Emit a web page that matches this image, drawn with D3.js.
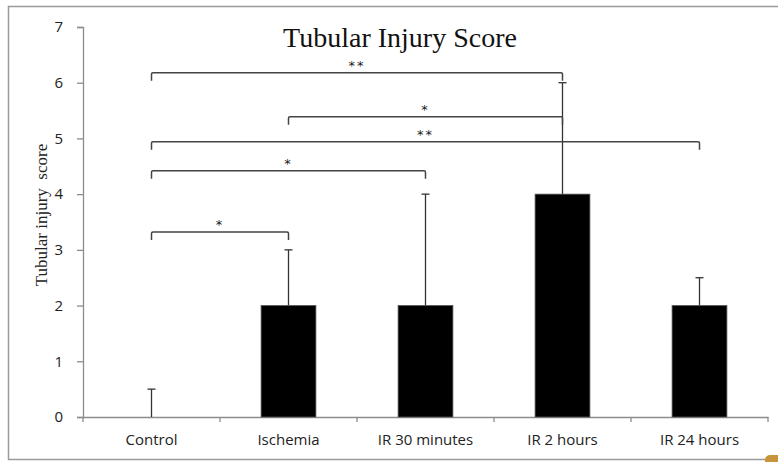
<!DOCTYPE html>
<html>
<head>
<meta charset="utf-8">
<script src="https://cdn.jsdelivr.net/npm/d3@7"></script>
<style>
  body { margin: 0; background: #fff; }
  svg { display: block; }
</style>
</head>
<body>
<svg id="chart" width="778" height="462"></svg>
<script>
// Tubular injury score — bar chart with error bars and significance brackets

const categories = ['Control', 'Ischemia', 'IR 30 minutes', 'IR 2 hours', 'IR 24 hours'];
const scores = [0, 2, 2, 4, 2];
const errUpper = [0.5, 3, 4, 6, 2.5];
const yTicks = [0, 1, 2, 3, 4, 5, 6, 7];

// brackets: from, to, level (score units), label
const bracketFrom = ['Control', 'Control', 'Control', 'Ischemia', 'Control'];
const bracketTo = ['Ischemia', 'IR 30 minutes', 'IR 24 hours', 'IR 2 hours', 'IR 2 hours'];
const bracketLevel = [3.32, 4.42, 4.94, 5.39, 6.18];
const bracketLabel = ['*', '*', '**', '*', '**'];

const svg = d3.select('#chart');
const m = { left: 83, right: 10, top: 27, bottom: 45 };

// frame round the chart
svg.append('path')
  .attr('d', `M778,6.5H8.5V459.5H766`)
  .attr('fill', 'none').attr('stroke', '#9a9a9a').attr('stroke-width', 1.5);
svg.append('rect')
  .attr('x', 765).attr('y', 455).attr('width', 20).attr('height', 14).attr('rx', 5)
  .attr('fill', '#c8933a');

const x = d3.scaleBand().domain(categories).range([m.left, 768]).padding(0);
const y = d3.scaleLinear().domain([0, 7]).range([417, 27]);
const barW = x.bandwidth() * 0.4;
const cx = c => x(c) + x.bandwidth() / 2;

// axes
const yAxis = svg.append('g').attr('transform', `translate(${m.left},0)`)
  .call(d3.axisLeft(y).tickValues(yTicks).tickFormat(d3.format('d')).tickSize(6).tickPadding(14));
const xAxis = svg.append('g').attr('transform', `translate(0,${y(0)})`)
  .call(d3.axisBottom(x).tickSize(0).tickPadding(17));
[yAxis, xAxis].forEach(g => {
  g.attr('font-family', '"Open Sans", sans-serif').attr('font-size', 15);
  g.selectAll('.tick text').attr('fill', '#222');
  g.select('.domain').attr('stroke', '#8c8c8c').attr('stroke-width', 1.3);
  g.selectAll('.tick line').attr('stroke', '#8c8c8c').attr('stroke-width', 1.3);
});
// x tick marks sit between categories
svg.append('g').selectAll('line')
  .data(categories.map(c => x(c)).concat([x.range()[1]]))
  .join('line')
  .attr('x1', d => d).attr('x2', d => d)
  .attr('y1', y(0)).attr('y2', y(0) + 5)
  .attr('stroke', '#8c8c8c').attr('stroke-width', 1.3);

// error bars (upper only)
const err = svg.append('g').attr('stroke', '#333').attr('stroke-width', 1.3);
categories.forEach((c, i) => {
  err.append('line').attr('x1', cx(c)).attr('x2', cx(c))
    .attr('y1', y(scores[i])).attr('y2', y(errUpper[i]));
  err.append('line').attr('x1', cx(c) - 4).attr('x2', cx(c) + 4)
    .attr('y1', y(errUpper[i])).attr('y2', y(errUpper[i]));
});

// bars
svg.append('g').selectAll('rect')
  .data(categories)
  .join('rect')
  .attr('x', c => cx(c) - barW / 2)
  .attr('y', (c, i) => y(scores[i]))
  .attr('width', barW)
  .attr('height', (c, i) => y(0) - y(scores[i]))
  .attr('fill', '#000')
  .attr('stroke', '#555').attr('stroke-width', 0.8);

// significance brackets
const br = svg.append('g');
bracketLevel.forEach((lv, i) => {
  const x1 = cx(bracketFrom[i]), x2 = cx(bracketTo[i]), yy = y(lv);
  br.append('path')
    .attr('d', `M${x1},${yy + 8}V${yy + 1.5}Q${x1},${yy} ${x1 + 1.5},${yy}H${x2 - 1.5}Q${x2},${yy} ${x2},${yy + 1.5}V${yy + 8}`)
    .attr('fill', 'none').attr('stroke', '#444').attr('stroke-width', 1.5);
  br.append('text')
    .attr('x', (x1 + x2) / 2).attr('y', yy - 3)
    .attr('text-anchor', 'middle')
    .attr('font-family', '"DejaVu Sans", sans-serif').attr('font-size', 13)
    .attr('letter-spacing', 2)
    .attr('fill', '#222')
    .text(bracketLabel[i]);
});

// title
svg.append('text')
  .attr('x', 400).attr('y', 47)
  .attr('text-anchor', 'middle')
  .attr('font-family', '"Liberation Serif", serif').attr('font-size', 28)
  .attr('fill', '#111')
  .text('Tubular Injury Score');

// y label
svg.append('text')
  .attr('transform', `translate(47,215) rotate(-90)`)
  .attr('text-anchor', 'middle')
  .attr('font-family', '"Liberation Serif", serif').attr('font-size', 17)
  .attr('fill', '#222')
  .style('white-space', 'pre')
  .text('Tubular injury  score');
</script>
</body>
</html>
